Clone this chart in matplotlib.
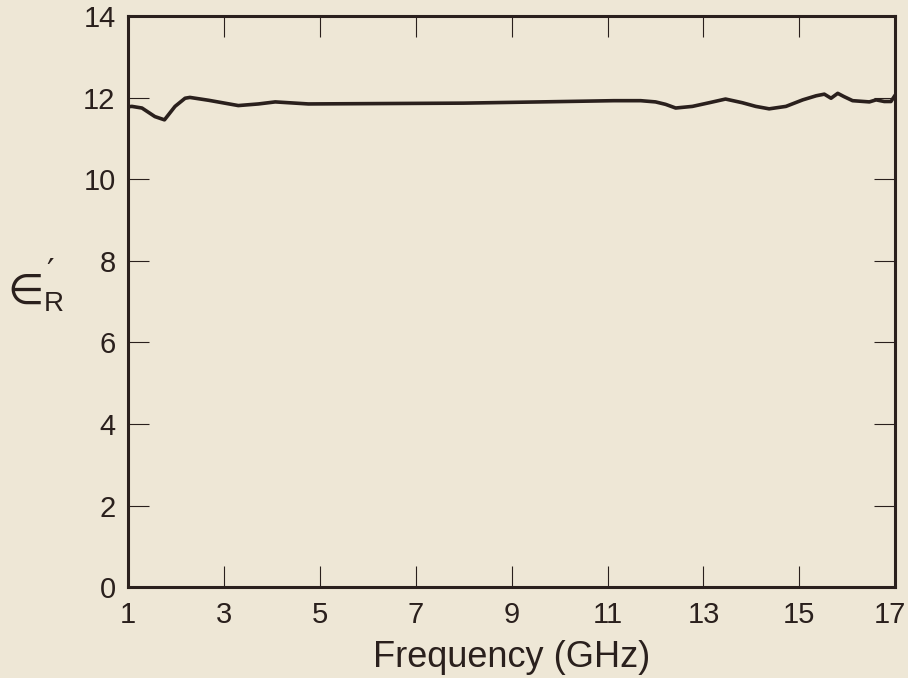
import matplotlib
matplotlib.use("Agg")
import matplotlib.pyplot as plt
from matplotlib.transforms import ScaledTranslation

# values
freq_ghz = [1.0, 1.08, 1.29, 1.56, 1.76, 1.98, 2.19, 2.29, 2.68, 3.3, 3.72,
            4.07, 4.76, 6.37, 8.0, 9.6, 11.13, 11.69, 12.0, 12.21, 12.42,
            12.77, 13.12, 13.46, 13.81, 14.09, 14.37, 14.72, 15.07, 15.35,
            15.52, 15.66, 15.8, 15.93, 16.11, 16.46, 16.6, 16.77, 16.91, 17.0]
eps_r = [11.78, 11.79, 11.75, 11.54, 11.46, 11.79, 11.99, 12.01, 11.94, 11.81,
         11.85, 11.9, 11.85, 11.86, 11.87, 11.9, 11.93, 11.93, 11.9, 11.84,
         11.75, 11.79, 11.88, 11.97, 11.88, 11.79, 11.73, 11.79, 11.95, 12.05,
         12.09, 11.99, 12.11, 12.03, 11.93, 11.9, 11.95, 11.91, 11.91, 12.07]

xticks = [1, 3, 5, 7, 9, 11, 13, 15, 17]
yticks = [0, 2, 4, 6, 8, 10, 12, 14]

bg = '#eee7d6'
ink = '#2a201d'

plt.rcParams['font.family'] = ['Liberation Sans', 'DejaVu Sans']

fig = plt.figure(figsize=(9.08, 6.78), dpi=100, facecolor=bg)
ax = fig.add_axes([0.141, 0.134, 0.845, 0.842], facecolor=bg)

ax.plot(freq_ghz, eps_r, color=ink, lw=2.6, solid_joinstyle='round',
        solid_capstyle='round')

ax.set_xlim(1, 17)
ax.set_ylim(0, 14)
ax.set_xticks(xticks)
ax.set_yticks(yticks)
ax.tick_params(direction='in', length=15, width=0.8, color=ink,
               labelsize=21, labelcolor=ink, top=True, right=True)
ax.tick_params(axis='x', pad=10)
ax.tick_params(axis='y', pad=9)
for s in ax.spines.values():
    s.set_linewidth(2.2)
    s.set_color(ink)

# last x label sits against the page edge in the scan
last = ax.get_xticklabels()[-1]
last.set_transform(last.get_transform() + ScaledTranslation(-5 / 100, 0, fig.dpi_scale_trans))

ax.set_xlabel('Frequency (GHz)', fontsize=26, color=ink, labelpad=8)

# epsilon'_R axis symbol
fig.text(26 / 908, 1 - 292 / 678, '\u2208', fontsize=30, color=ink,
         family='DejaVu Sans', ha='center', va='center')
fig.text(50 / 908, 1 - 274 / 678, '\u2032', fontsize=24, color=ink,
         family='DejaVu Sans', ha='center', va='center')
fig.text(54 / 908, 1 - 304 / 678, 'R', fontsize=20, color=ink,
         ha='center', va='center')

fig.savefig('out.png', dpi=100, facecolor=bg)
